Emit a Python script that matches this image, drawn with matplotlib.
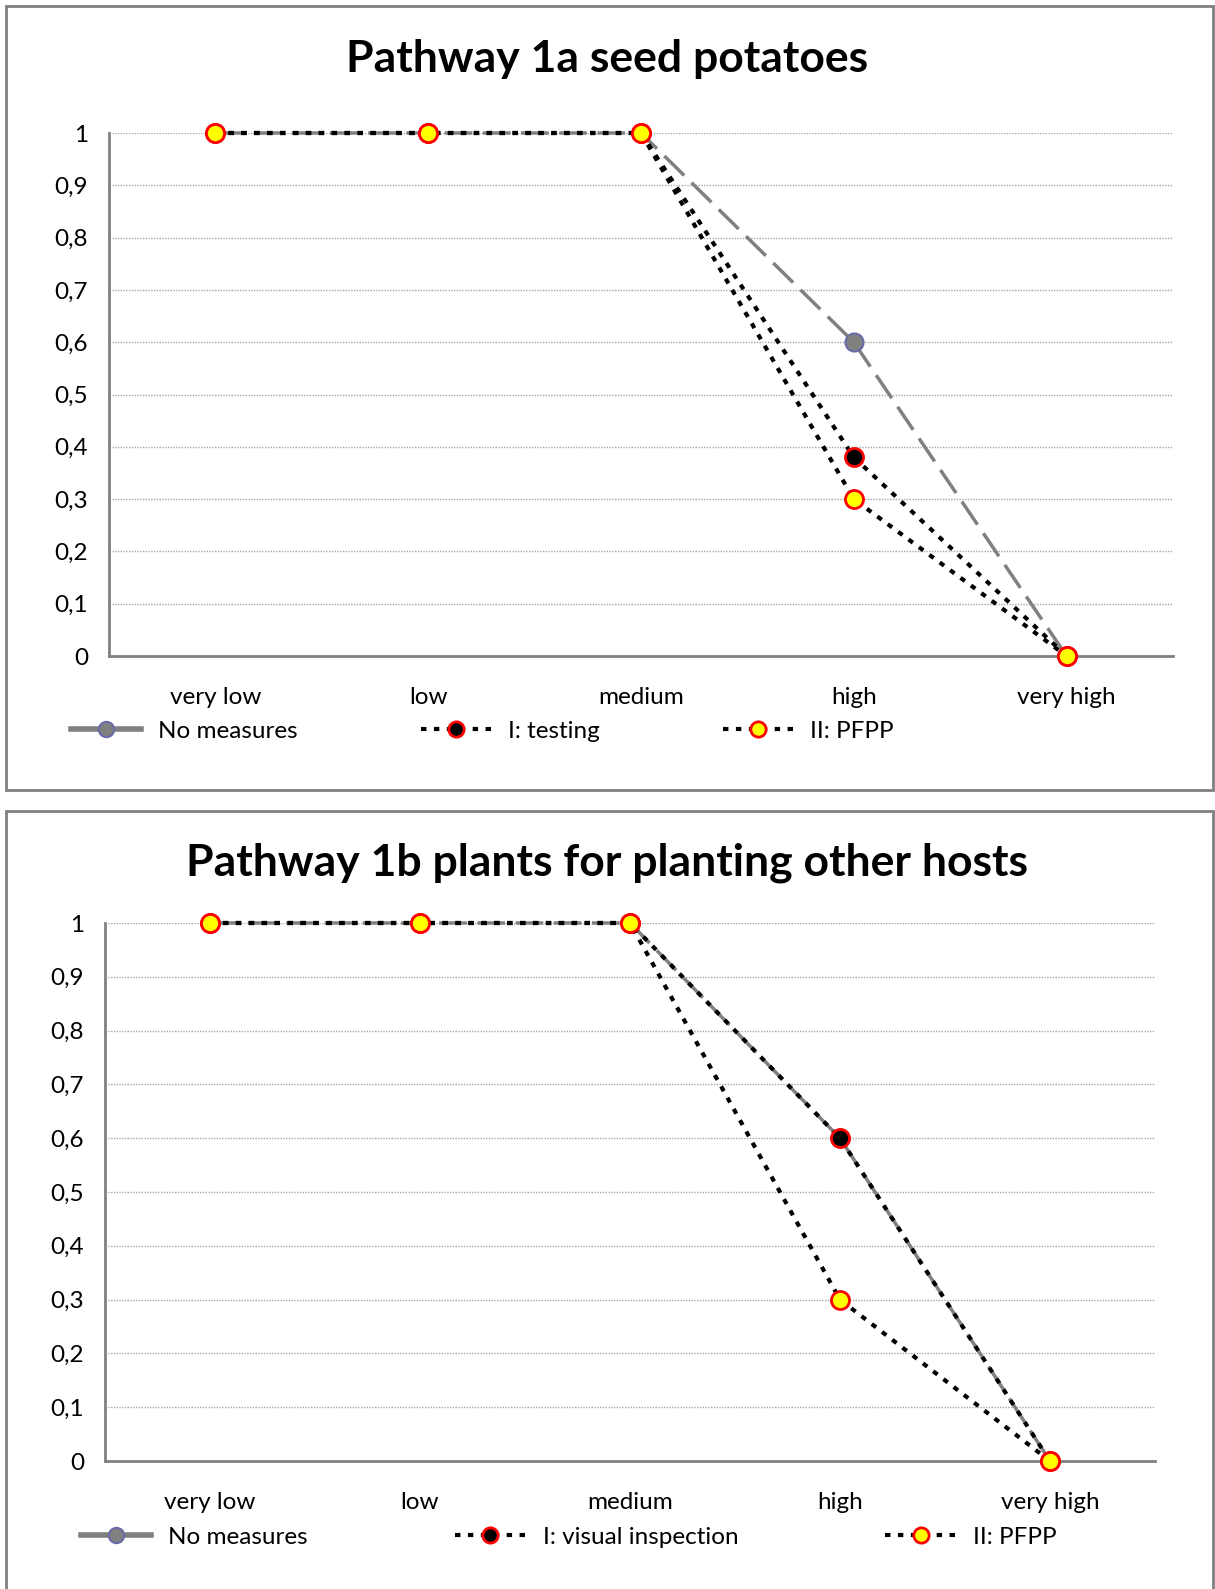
import matplotlib
matplotlib.use("Agg")
import matplotlib.pyplot as plt
from matplotlib.patches import Rectangle
from matplotlib.lines import Line2D
from matplotlib.ticker import FuncFormatter

plt.rcParams['font.family'] = ['Lato', 'DejaVu Sans']

categories = ['very low', 'low', 'medium', 'high', 'very high']

# Pathway 1a seed potatoes
title_a = 'Pathway 1a seed potatoes'
no_measures_a = [1, 1, 1, 0.6, 0]
testing_a = [1, 1, 1, 0.38, 0]
pfpp_a = [1, 1, 1, 0.3, 0]
labels_a = ['No measures', 'I: testing', 'II: PFPP']

# Pathway 1b plants for planting other hosts
title_b = 'Pathway 1b plants for planting other hosts'
no_measures_b = [1, 1, 1, 0.6, 0]
visual_b = [1, 1, 1, 0.6, 0]
pfpp_b = [1, 1, 1, 0.3, 0]
labels_b = ['No measures', 'I: visual inspection', 'II: PFPP']

yticks = [0, 0.1, 0.2, 0.3, 0.4, 0.5, 0.6, 0.7, 0.8, 0.9, 1]

W, H = 1215, 1589
fig = plt.figure(figsize=(W / 100, H / 100), dpi=100)

# outer frames of the two charts
for y0, y1 in [(6, 790), (811, 1600)]:
    fig.patches.append(Rectangle((6 / W, 1 - y1 / H), (1213 - 6) / W, (y1 - y0) / H,
                                 transform=fig.transFigure, fill=False,
                                 edgecolor='#808080', linewidth=2))

gray_style = dict(color='#808080', marker='o', ms=13, mfc='#808080', mec='#6a6aa8', mew=1.5)
black_style = dict(color='black', marker='o', ms=13, mfc='black', mec='red', mew=2)
yellow_style = dict(color='black', marker='o', ms=13, mfc='yellow', mec='red', mew=2)


def draw_chart(rect, title, title_y, series, labels, leg_x, leg_y, colspace):
    ax = fig.add_axes(rect)
    x = range(len(categories))
    s0, s1, s2 = series
    ax.plot(x, s0, lw=2.5, dashes=(8, 3), clip_on=False, zorder=3, **gray_style)
    ax.plot(x, s1, lw=3, dashes=(1.3, 1.8), clip_on=False, zorder=4, **black_style)
    ax.plot(x, s2, lw=3, dashes=(1.3, 1.8), clip_on=False, zorder=5, **yellow_style)
    ax.set_xlim(-0.5, len(categories) - 0.5)
    ax.set_ylim(0, 1)
    ax.set_yticks(yticks)
    ax.yaxis.set_major_formatter(FuncFormatter(lambda v, p: ('%g' % round(v, 1)).replace('.', ',')))
    ax.set_xticks(list(x))
    ax.set_xticklabels(categories)
    ax.tick_params(axis='y', length=0, pad=15, labelsize=17.5)
    ax.tick_params(axis='x', length=0, pad=22, labelsize=17.5)
    ax.grid(axis='y', color='#a8a8a8', lw=1, ls=(0, (1, 1)))
    ax.set_axisbelow(True)
    for s in ['top', 'right']:
        ax.spines[s].set_visible(False)
    for s in ['left', 'bottom']:
        ax.spines[s].set_color('#808080')
        ax.spines[s].set_linewidth(2)
    fig.text(0.5, title_y, title, ha='center', va='center', fontsize=32, fontweight='bold')
    handles = [Line2D([], [], lw=4, **gray_style),
               Line2D([], [], lw=3, dashes=(1.3, 1.8), **black_style),
               Line2D([], [], lw=3, dashes=(1.3, 1.8), **yellow_style)]
    for h in handles:
        h.set_markersize(11)
    fig.legend(handles, labels, loc='center left', bbox_to_anchor=(leg_x, leg_y),
               ncol=3, frameon=False, fontsize=17.5, handlelength=2.9, handletextpad=0.7,
               columnspacing=colspace, borderpad=0, borderaxespad=0)
    return ax


draw_chart([109 / W, 1 - 656 / H, (1173 - 109) / W, (656 - 133) / H], title_a, 1 - 59 / H,
           (no_measures_a, testing_a, pfpp_a), labels_a, 71 / W, 1 - 731 / H, 5.05)
draw_chart([105 / W, 1 - 1461 / H, (1155 - 105) / W, (1461 - 923) / H], title_b, 1 - 863 / H,
           (no_measures_b, visual_b, pfpp_b), labels_b, 81 / W, 1 - 1537 / H, 6.05)

fig.savefig('out.png', dpi=100)
